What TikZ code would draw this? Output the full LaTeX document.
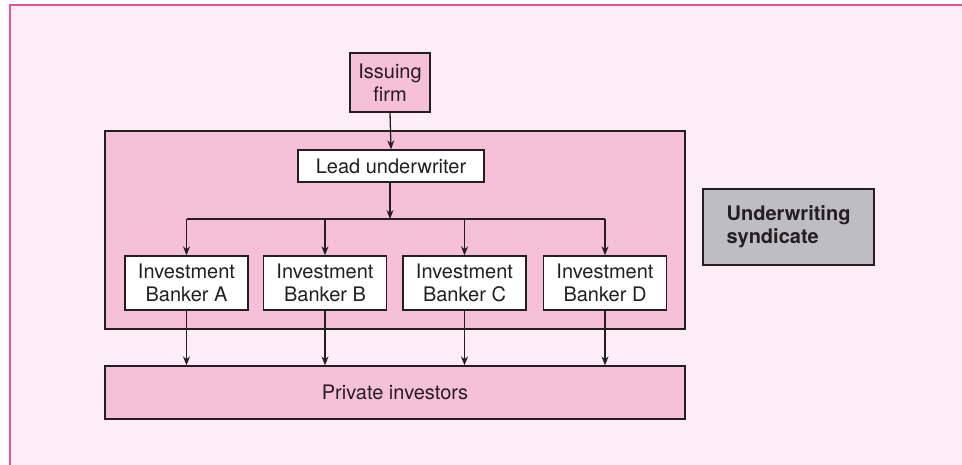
\documentclass[tikz,border=0pt]{standalone}
\usepackage{fontspec}
\setmainfont{TeX Gyre Heros}
\usetikzlibrary{arrows.meta}
\definecolor{bgpink}{HTML}{FDEEF5}
\definecolor{boxpink}{HTML}{F6C0D8}
\definecolor{framepink}{HTML}{EE4FA0}
\definecolor{greybox}{HTML}{BEBEC2}
\definecolor{ink}{HTML}{231F20}
\begin{document}
\begin{tikzpicture}[x=1pt,y=-1pt,
  every node/.style={font=\fontsize{20}{23}\selectfont, text=ink},
  pinkbox/.style={draw=ink, line width=1.3pt, fill=boxpink, inner sep=0pt, align=center},
  whitebox/.style={draw=ink, line width=1.3pt, fill=white, inner sep=0pt, align=center},
  greyboxst/.style={draw=ink, line width=1.3pt, fill=greybox, inner sep=0pt, align=left, font=\fontsize{20}{23}\selectfont\bfseries},
  arr/.style={draw=ink, line width=1.3pt, -{Stealth[length=9pt,width=7pt]}},
  conn/.style={draw=ink, line width=1.3pt}]
\useasboundingbox (0,0) rectangle (962,465);
\fill[white] (0,0) rectangle (962,465);
\fill[bgpink] (10,5) rectangle (962,465);
\draw[framepink, line width=2.2pt] (10,465) -- (10,5) -- (962,5);
% syndicate container
\node[pinkbox, minimum width=580pt, minimum height=198pt] (syn) at (395,230) {};
% issuing firm
\node[pinkbox, minimum width=80pt, minimum height=59pt] (iss) at (390,82.5) {Issuing\\firm};
% lead underwriter
\node[whitebox, minimum width=186pt, minimum height=32pt] (lead) at (391,166) {Lead underwriter};
% bankers
\node[whitebox, minimum width=123pt, minimum height=54pt] (bA) at (186.5,283) {Investment\\Banker A};
\node[whitebox, minimum width=123pt, minimum height=54pt] (bB) at (325,283) {Investment\\Banker B};
\node[whitebox, minimum width=123pt, minimum height=54pt] (bC) at (464.5,283) {Investment\\Banker C};
\node[whitebox, minimum width=123pt, minimum height=54pt] (bD) at (605,283) {Investment\\Banker D};
% private investors
\node[pinkbox, minimum width=580pt, minimum height=53pt] (priv) at (395,392.5) {Private investors};
% underwriting syndicate label
\node[greyboxst, minimum width=171pt, minimum height=76pt] (us) at (788.5,227) {Underwriting\\syndicate};
% connectors
\coordinate (br) at (390,219);
\draw[arr] (iss.south) -- (lead.north);
\draw[arr] (lead.south -| br) -- (br);
\draw[conn] (bA.north |- br) -- (bD.north |- br);
\draw[arr] (bA.north |- br) -- (bA.north);
\draw[arr] (bB.north |- br) -- (bB.north);
\draw[arr] (bC.north |- br) -- (bC.north);
\draw[arr] (bD.north |- br) -- (bD.north);
\draw[arr] (bA.south) -- (bA.south |- priv.north);
\draw[arr] (bB.south) -- (bB.south |- priv.north);
\draw[arr] (bC.south) -- (bC.south |- priv.north);
\draw[arr] (bD.south) -- (bD.south |- priv.north);
\end{tikzpicture}
\end{document}
